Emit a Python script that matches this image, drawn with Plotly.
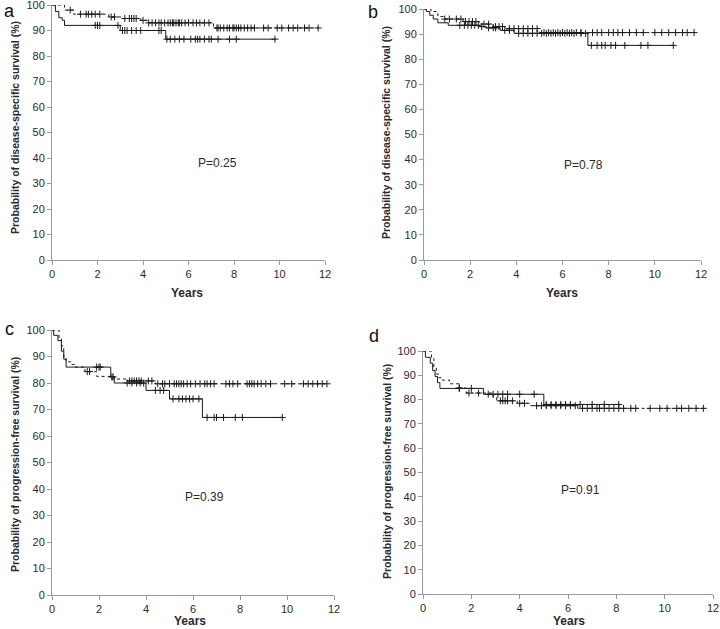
import numpy as np
import plotly.graph_objects as go

W, H = 720, 629

# ---------------- data (years, survival %) ----------------
# Panel a: disease-specific survival
A_SOLID_T = [0, 0.15, 0.3, 0.45, 0.55, 3.0, 5.0]
A_SOLID_S = [100, 97.5, 95, 94, 92, 90, 86.6]
A_SOLID_END = 9.8
A_SOLID_CENS = [1.9, 2.0, 2.1, 2.9, 3.1, 3.2, 3.3, 3.5, 3.7, 3.9, 4.7, 4.8, 5.05, 5.2, 5.4,
                5.6, 5.8, 6.1, 6.3, 6.4, 6.5, 6.7, 6.9, 7.0, 7.3, 7.8, 8.1, 9.8]
A_DASH_T = [0, 0.55, 0.95, 2.5, 3.1, 3.9, 4.2, 7.1]
A_DASH_S = [100, 98, 96.4, 95.3, 94.7, 94, 93, 91]
A_DASH_END = 11.7
A_DASH_CENS = [0.8, 1.25, 1.5, 1.6, 1.75, 1.9, 2.1, 2.6, 2.75, 3.2, 3.4, 3.5, 3.6, 3.7, 4.0,
               4.25, 4.4, 4.55, 4.7, 4.8, 4.95, 5.1, 5.2, 5.3, 5.35, 5.45, 5.55, 5.6, 5.7, 5.85,
               6.0, 6.2, 6.35, 6.5, 6.7, 6.9, 7.25, 7.3, 7.4, 7.55, 7.7, 7.8, 7.95, 8.0, 8.1,
               8.2, 8.3, 8.45, 8.6, 8.75, 8.9, 9.3, 9.5, 9.9, 10.1, 10.4, 10.6, 10.8, 11.1,
               11.3, 11.7]

# Panel b: disease-specific survival
B_SOLID_T = [0, 0.1, 0.25, 0.4, 0.6, 1.05, 2.4, 2.7, 3.3, 3.9, 7.1]
B_SOLID_S = [100, 99, 97.5, 96, 94.5, 93.5, 93, 92.5, 91.5, 90.3, 85.5]
B_SOLID_END = 10.8
B_SOLID_CENS = [1.55, 1.75, 1.9, 2.05, 2.2, 2.35, 2.5, 2.8, 3.0, 3.1, 3.5, 3.7, 4.1, 4.3,
                4.5, 4.7, 4.9, 5.1, 5.3, 5.5, 5.7, 5.9, 6.1, 6.3, 6.5, 6.8, 7.0, 7.25, 7.5,
                7.7, 7.85, 8.1, 8.3, 8.7, 9.4, 9.7, 10.8]
B_DASH_T = [0, 0.3, 0.6, 0.9, 1.7, 2.4, 3.0, 3.6, 5.0]
B_DASH_S = [100, 99, 97, 96, 95, 94, 93, 92.2, 90.6]
B_DASH_END = 11.7
B_DASH_CENS = [0.9, 1.1, 1.4, 1.6, 1.8, 1.95, 2.1, 2.25, 2.6, 2.8, 3.1, 3.25, 3.4, 3.7, 3.9,
               4.1, 4.3, 4.5, 4.7, 4.9, 5.2, 5.4, 5.6, 5.8, 6.0, 6.2, 6.4, 6.6, 6.8, 7.3,
               7.5, 7.7, 8.0, 8.2, 8.4, 8.6, 8.9, 9.2, 9.5, 10.0, 10.3, 10.6, 10.9, 11.2,
               11.4, 11.7]

# Panel c: progression-free survival
C_SOLID_T = [0, 0.07, 0.25, 0.4, 0.5, 0.6, 2.5, 2.65, 4.0, 5.0, 6.4]
C_SOLID_S = [100, 98, 96, 92, 89, 86, 82.3, 80, 77.2, 74, 67]
C_SOLID_END = 9.8
C_SOLID_CENS = [1.9, 2.0, 2.05, 2.55, 2.6, 3.2, 3.4, 3.6, 3.75, 3.9, 4.4, 4.6, 4.75, 5.15,
                5.4, 5.55, 5.7, 5.85, 6.0, 6.25, 6.6, 6.9, 7.0, 7.3, 7.8, 8.1, 9.8]
C_DASH_T = [0, 0.3, 0.4, 0.5, 0.6, 0.8, 1.0, 1.4, 1.9, 2.5, 3.2, 4.4]
C_DASH_S = [100, 97, 94, 90, 88, 87, 86, 84.3, 82.5, 81.5, 80.8, 79.7]
C_DASH_END = 11.7
C_DASH_CENS = [1.5, 1.6, 3.3, 3.4, 3.5, 3.6, 3.7, 3.8, 4.1, 4.25, 4.5, 4.7, 4.8, 5.0, 5.2,
               5.3, 5.4, 5.5, 5.6, 5.75, 5.9, 6.1, 6.3, 6.5, 6.6, 6.75, 6.9, 7.4, 7.55, 7.7,
               7.9, 8.3, 8.4, 8.5, 8.6, 8.75, 8.9, 9.1, 9.3, 9.9, 10.2, 10.7, 10.9, 11.1,
               11.3, 11.5, 11.7]

# Panel d: progression-free survival
D_SOLID_T = [0, 0.1, 0.3, 0.4, 0.5, 0.6, 0.7, 2.5, 5.0]
D_SOLID_S = [100, 97.4, 95, 92, 89.5, 87, 84.6, 82.2, 78]
D_SOLID_END = 8.1
D_SOLID_CENS = [1.5, 2.0, 2.7, 2.9, 3.1, 3.3, 3.5, 4.0, 4.6, 5.1, 5.3, 5.5, 5.7, 5.9, 6.1,
                6.5, 7.0, 7.5, 8.1]
D_DASH_T = [0, 0.35, 0.45, 0.55, 0.65, 0.8, 1.1, 1.5, 1.8, 2.9, 3.05, 3.9, 4.4, 6.4]
D_DASH_S = [100, 97, 93, 90.5, 89, 88, 86.5, 84.8, 82.7, 81, 79.5, 78.5, 77.5, 76.4]
D_DASH_END = 11.75
D_DASH_CENS = [1.5, 1.9, 2.3, 3.2, 3.3, 3.4, 3.5, 3.7, 4.0, 4.2, 4.7, 4.9, 5.1, 5.3, 5.5,
               5.7, 5.9, 6.1, 6.3, 6.6, 6.8, 7.0, 7.2, 7.3, 7.5, 7.7, 7.9, 8.1, 8.3, 8.6,
               8.8, 9.4, 9.8, 10.1, 10.5, 10.7, 11.0, 11.3, 11.6]

X_TICKS = [0, 2, 4, 6, 8, 10, 12]
Y_TICKS = [0, 10, 20, 30, 40, 50, 60, 70, 80, 90, 100]
PANEL_LETTERS = ["a", "b", "c", "d"]
P_VALUES = ["P=0.25", "P=0.78", "P=0.39", "P=0.91"]
Y_TITLES = ["Probability of disease-specific survival (%)",
            "Probability of disease-specific survival (%)",
            "Probability of progression-free survival (%)",
            "Probability of progression-free survival (%)"]
X_TITLE = "Years"

panels = [
    (A_SOLID_T, A_SOLID_S, A_SOLID_END, A_SOLID_CENS, A_DASH_T, A_DASH_S, A_DASH_END, A_DASH_CENS),
    (B_SOLID_T, B_SOLID_S, B_SOLID_END, B_SOLID_CENS, B_DASH_T, B_DASH_S, B_DASH_END, B_DASH_CENS),
    (C_SOLID_T, C_SOLID_S, C_SOLID_END, C_SOLID_CENS, C_DASH_T, C_DASH_S, C_DASH_END, C_DASH_CENS),
    (D_SOLID_T, D_SOLID_S, D_SOLID_END, D_SOLID_CENS, D_DASH_T, D_DASH_S, D_DASH_END, D_DASH_CENS),
]

# ---------------- layout geometry (pixels) ----------------
# (x0, x1, ytop(100), ybottom(0))
boxes = [(52, 325, 5, 260), (424, 701, 9, 260), (52, 334, 330, 595), (423, 713, 351, 594)]
letter_pos = [(9, 11), (373, 12), (9, 329), (374, 336)]
p_pos = [(217, 163), (583, 165), (204, 497), (580, 490)]
ytitle_pos = [(15, 128), (386, 133), (15, 465), (387, 472)]
xtitle_pos = [(187, 293), (562, 293), (190, 621), (569, 621)]

def px(x):
    return x / W

def py(y):
    return 1 - y / H

def step_value(t, s, c):
    idx = np.searchsorted(np.asarray(t), c, side="right") - 1
    return np.asarray(s)[idx]

INK = "#1a1a1a"
AXIS = "#9a9a9a"
TXT = "#2a2a2a"
FONT = "Liberation Sans, Arial, sans-serif"

fig = go.Figure()
layout = dict(
    template="none",
    width=W, height=H, margin=dict(l=0, r=0, t=0, b=0, autoexpand=False),
    paper_bgcolor="white", plot_bgcolor="white", showlegend=False,
    font=dict(family=FONT, color=TXT, size=11),
)
annotations = []

def note(x, y, text, size, angle=0, color=TXT):
    annotations.append(dict(x=px(x), y=py(y), xref="paper", yref="paper",
                            xanchor="center", yanchor="middle",
                            text=text, showarrow=False, textangle=angle,
                            font=dict(size=size, color=color, family=FONT)))

for i, (st, ss, send, sc, dt, ds, dend, dc) in enumerate(panels):
    n = "" if i == 0 else str(i + 1)
    xa, ya = "x" + n, "y" + n
    x0, x1, yt, yb = boxes[i]
    common = dict(
        ticks="outside", ticklen=4, tickcolor=AXIS, tickwidth=1,
        showline=True, linecolor=AXIS, linewidth=1, showgrid=False, zeroline=False,
        tickfont=dict(size=11, color=TXT, family=FONT), fixedrange=True,
        automargin=False, ticklabeloverflow="allow",
    )
    layout["xaxis" + n] = dict(domain=[px(x0), px(x1)], range=[0, 12], anchor=ya,
                               tickvals=X_TICKS, **common)
    layout["yaxis" + n] = dict(domain=[py(yb), py(yt)], range=[0, 100], anchor=xa,
                               tickvals=Y_TICKS, **common)
    # dashed group
    fig.add_trace(go.Scatter(
        x=list(dt) + [dend], y=list(ds) + [ds[-1]], mode="lines",
        line=dict(shape="hv", color=INK, width=1, dash="3px,3px"),
        xaxis=xa, yaxis=ya, hoverinfo="skip", cliponaxis=False))
    fig.add_trace(go.Scatter(
        x=dc, y=step_value(dt, ds, dc), mode="markers",
        marker=dict(symbol="cross-thin", size=5, line=dict(color=INK, width=1)),
        xaxis=xa, yaxis=ya, hoverinfo="skip", cliponaxis=False))
    # solid group
    fig.add_trace(go.Scatter(
        x=list(st) + [send], y=list(ss) + [ss[-1]], mode="lines",
        line=dict(shape="hv", color=INK, width=1),
        xaxis=xa, yaxis=ya, hoverinfo="skip", cliponaxis=False))
    fig.add_trace(go.Scatter(
        x=sc, y=step_value(st, ss, sc), mode="markers",
        marker=dict(symbol="cross-thin", size=5, line=dict(color=INK, width=1)),
        xaxis=xa, yaxis=ya, hoverinfo="skip", cliponaxis=False))

    note(*letter_pos[i], PANEL_LETTERS[i], 18, color="#111")
    note(*p_pos[i], P_VALUES[i], 12)
    note(*ytitle_pos[i], "<b>" + Y_TITLES[i] + "</b>", 10.5, angle=-90)
    note(*xtitle_pos[i], "<b>" + X_TITLE + "</b>", 12)

layout["annotations"] = annotations
fig.update_layout(**layout)
fig.write_html("out.html", config={"displayModeBar": False},
               post_script="document.body.style.margin='0';document.body.style.overflow='hidden';")
